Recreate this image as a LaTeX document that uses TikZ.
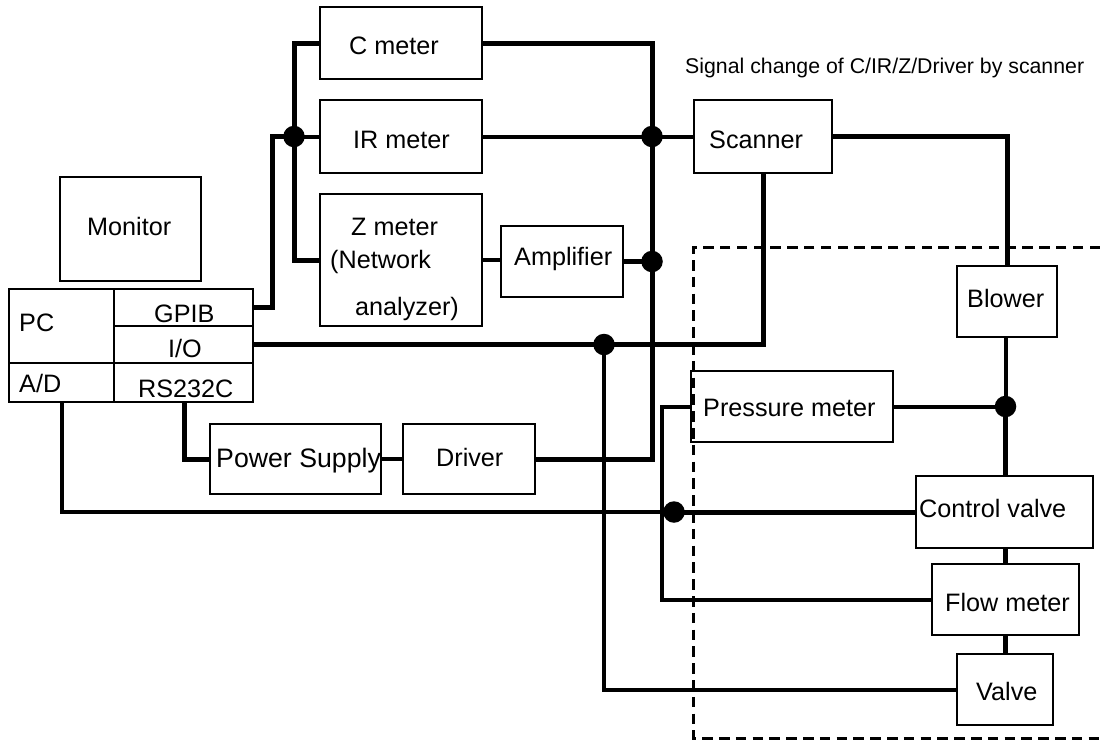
\documentclass[tikz,border=0pt]{standalone}
\usepackage{fontspec}
\setmainfont{Liberation Sans}
\usetikzlibrary{calc}
\tikzset{
  bx/.style={draw=black,line width=2.4pt,fill=white,inner sep=0pt,outer sep=0pt},
  lbl/.style={inner sep=0pt,font=\fontsize{25.2}{25.2}\selectfont,anchor=base west},
  thick line/.style={line width=5pt,line cap=butt,line join=miter},
  thin line/.style={line width=4pt,line cap=butt,line join=miter},
  jdot/.style={circle,fill=black,draw=none,minimum size=21.5pt,inner sep=0pt},
  zone/.style={line width=3pt,dash pattern=on 10.5pt off 6.3pt},
}
\newcommand{\boxat}[5]{\node[bx,minimum width={(#4-#2)*1pt},minimum height={(#5-#3)*1pt}] (#1) at ({(#2+#4)/2},{(#3+#5)/2}) {};}
\begin{document}
\begin{tikzpicture}[x=1pt,y=-1pt]
\useasboundingbox (0,0) rectangle (1100,740);
\fill[white] (0,0) rectangle (1100,740);
% boxes
\boxat{cm}{320}{7}{482}{79}
\boxat{ir}{320}{100}{482}{173}
\boxat{zm}{320}{194}{482}{326}
\boxat{amp}{501}{226}{623}{297}
\boxat{scan}{694}{100}{832}{173}
\boxat{mon}{60}{177}{201}{281}
\boxat{pc}{9}{289}{253}{402}
\boxat{gpib}{114}{289}{253}{326}
\boxat{io}{114}{326}{253}{363}
\boxat{ad}{9}{363}{114}{402}
\boxat{rs}{114}{363}{253}{402}
\boxat{ps}{210}{424}{381}{494}
\boxat{drv}{403}{424}{535}{494}
\boxat{press}{691}{371}{893}{442}
\boxat{blow}{957}{266}{1057}{337}
\boxat{cv}{916}{476}{1093}{548}
\boxat{fm}{932}{564}{1079}{635}
\boxat{valve}{957}{654}{1053}{725}
% junction and bend coordinates
\coordinate (j1) at (294,0 |- ir.west);
\coordinate (j2) at (652,0 |- ir.west);
\coordinate (j3) at (652,0 |- amp.east);
\coordinate (j4) at (604,0 |- io.east);
\coordinate (j5) at (1005.5,0 |- press.east);
\coordinate (j6) at (674,0 |- cv.west);
\coordinate (b1) at (662,0 |- fm.west);
% dashed zone
\draw[zone] (1100,247) -- (693,247) -- (693,738) -- (1100,738);
% connectors
\draw[thick line] (gpib.east |- 0,307) -- (272,307) |- (j1);
\draw[thin line] (j1) -- (ir.west);
\draw[thick line] (cm.west) -| (j1) |- (zm.west);
\draw[thick line] (cm.east) -| (j2) -- (j3) |- (drv.east);
\draw[thin line] (ir.east) -- (j2) -- (scan.west);
\draw[thin line] (zm.east) -- (amp.west |- zm.east);
\draw[thick line] (amp.east) -- (j3);
\draw[thick line] (io.east) -- (j4) -| (scan.south);
\draw[thin line] (j4) |- (valve.west);
\draw[thick line] (scan.east) -| (blow.north);
\draw[thin line] (j5 |- blow.south) -- (j5);
\draw[thick line] (j5) -- (j5 |- cv.north);
\draw[thin line] (press.east) -- (j5);
\draw[thin line] (press.west) -| (b1) -- (fm.west);
\draw[thin line] (ad.south -| 62,0) |- (j6);
\draw[thick line] (j6) -- (cv.west);
\draw[thick line] (rs.south -| 184,0) |- (ps.west);
\draw[thin line] (ps.east) -- (drv.west);
\draw[thick line] (j5 |- cv.south) -- (j5 |- fm.north);
\draw[thick line] (j5 |- fm.south) -- (j5 |- valve.north);
% dots
\foreach \j in {j1,j2,j3,j4,j5,j6} \node[jdot] at (\j) {};
% labels
\node[lbl] (tcm) at (349,54) {C meter};
\node[lbl] (tir) at (353,148) {IR meter};
\node[lbl] (tzm) at (351,235) {Z meter};
\node[lbl] (tnet) at (330,268) {(Network};
\node[lbl] (tana) at (355,315) {analyzer)};
\node[lbl] (tamp) at (514,265) {Amplifier};
\node[lbl] (tscan) at (709,148) {Scanner};
\node[lbl] (tmon) at (87,235) {Monitor};
\node[lbl] (tpc) at (19,331) {PC};
\node[lbl] (tgp) at (154,322) {GPIB};
\node[lbl] (tio) at (168,357) {I/O};
\node[lbl] (tad) at (19,392) {A/D};
\node[lbl] (trs) at (138,397) {RS232C};
\node[lbl,font=\fontsize{26.7}{26.7}\selectfont] (tps) at (216,467) {Power Supply};
\node[lbl] (tdrv) at (436,466) {Driver};
\node[lbl] (tpr) at (703,416) {Pressure meter};
\node[lbl] (tbl) at (967,307) {Blower};
\node[lbl] (tcv) at (919,517) {Control valve};
\node[lbl] (tfm) at (945,611) {Flow meter};
\node[lbl] (tv) at (976,700) {Valve};
\node[inner sep=0pt,anchor=base west,font=\fontsize{21.3}{21.3}\selectfont] (tsig) at (685,73) {Signal change of C/IR/Z/Driver by scanner};
\end{tikzpicture}
\end{document}
